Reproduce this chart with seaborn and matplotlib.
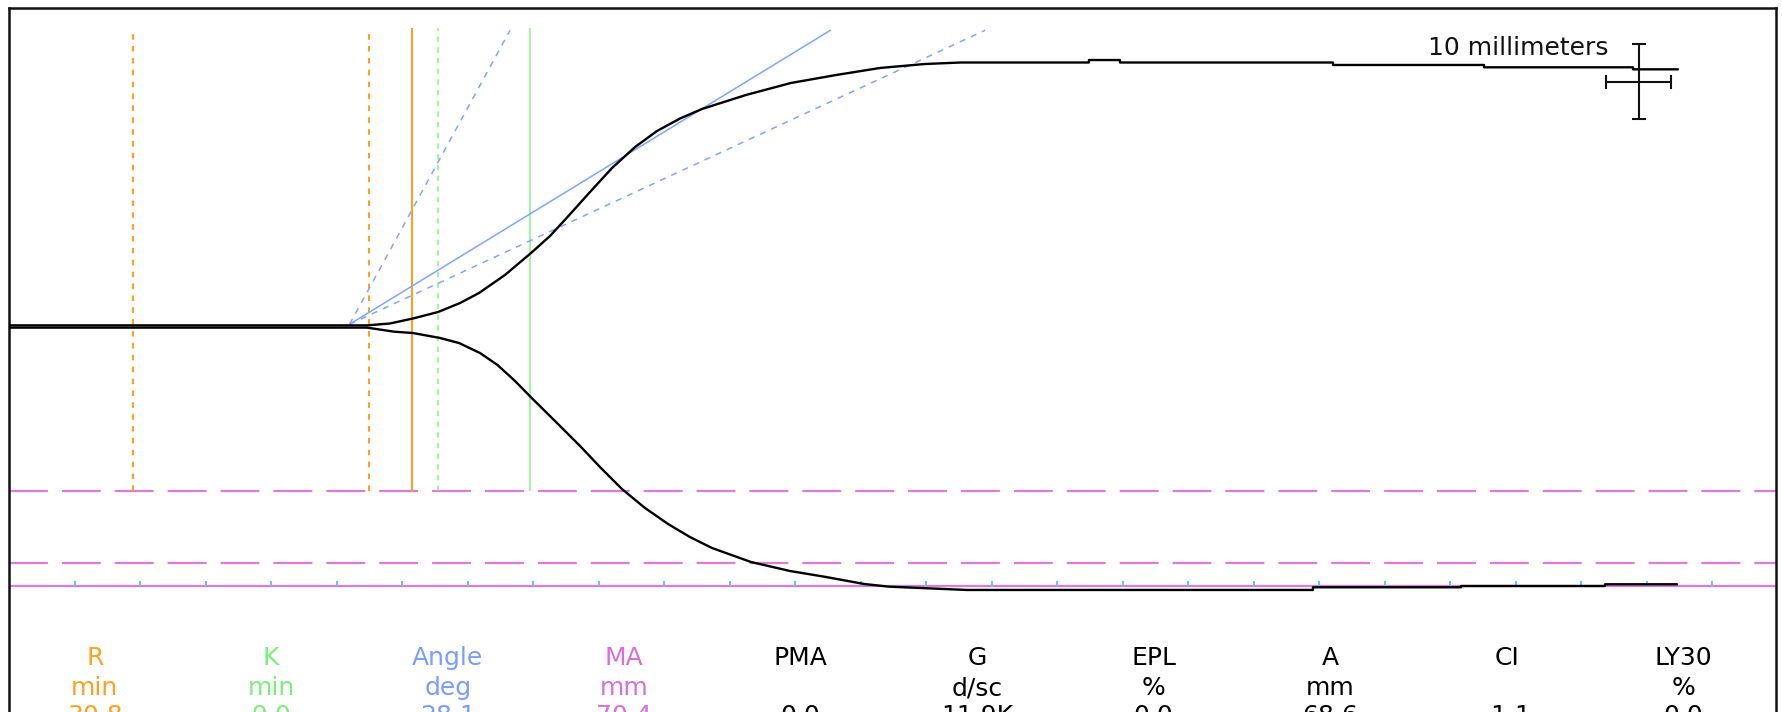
import matplotlib
matplotlib.use("Agg")
import numpy as np
import pandas as pd
import matplotlib.pyplot as plt
import seaborn as sns

sns.set_style("white")
plt.rcParams['font.family'] = ['DejaVu Sans']

# ---- tracing (time in minutes, amplitude in mm from baseline) ----
time_upper = [0, 27.33, 29.08, 30.84, 32.75, 34.43, 35.88, 37.86, 39.85, 41.30,
              42.67, 44.35, 46.03, 47.79, 49.47, 51.22, 52.90, 56.26, 59.69, 63.13,
              66.49, 69.92, 72.67, 82.44, 82.44, 84.81, 84.81, 101.07, 101.07, 112.60,
              112.60, 123.97, 123.97, 127.40]
amp_upper = [0.15, 0.15, 0.4, 1.07, 1.93, 3.13, 4.47, 6.87, 9.8, 12.07,
             14.67, 17.93, 21.13, 23.93, 26.07, 27.73, 29.0, 30.87, 32.47, 33.53,
             34.47, 35.0, 35.2, 35.2, 35.53, 35.53, 35.2, 35.2, 34.87, 34.87,
             34.56, 34.56, 34.29, 34.29]

time_lower = [0, 27.33, 29.39, 30.84, 32.90, 34.35, 35.95, 37.29, 38.63, 39.92,
              41.68, 43.59, 45.11, 46.79, 48.55, 50.31, 51.98, 53.66, 56.64,
              59.62, 62.37, 65.27, 67.18, 69.62, 73.13, 99.54, 99.54, 110.84, 110.84,
              121.83, 121.83, 127.33]
amp_lower = [-0.15, -0.15, -0.69, -0.87, -1.53, -2.2, -3.53, -5.13, -7.27, -9.57,
             -12.6, -15.93, -18.73, -21.67, -24.2, -26.33, -28.07, -29.53, -31.4,
             -32.6, -33.4, -34.33, -34.69, -34.87, -35.13, -35.13, -34.77, -34.77, -34.6,
             -34.6, -34.37, -34.37]

# ---- results ----
r_time = 30.8          # min
k_time = 9.0           # min
angle_deg = 28.1       # deg
r_normal = [9.5, 27.5]          # min
k_normal_marker = 32.75         # min
angle_normal = [22.0, 58.0]     # deg
ma_normal = [44.0, 63.0]        # mm
ma_axis_level = -34.6           # mm
tangent_origin = (26.0, 0.3)    # (min, mm)
tick_minutes = list(range(5, 131, 5))

param_names = ["R", "K", "Angle", "MA", "PMA", "G", "EPL", "A", "CI", "LY30"]
param_units = ["min", "min", "deg", "mm", "", "d/sc", "%", "mm", "", "%"]
param_values = ["30.8", "9.0", "28.1", "70.4", "0.0", "11.9K", "0.0", "68.6", "-1.1", "0.0"]

# ---- colours ----
c_orange = "#FFA020"
c_green = "#86F086"
c_blue = "#7FA6FF"
c_magenta = "#DD7ADD"
c_tick = "#66C0FF"
param_colors = [c_orange, "#7DEE7D", "#7A9CFF", "#DA6EDA",
                "black", "black", "black", "black", "black", "black"]

W, H, DPI = 1783, 712, 100
fig = plt.figure(figsize=(W / DPI, H / DPI), dpi=DPI)
fig.patch.set_facecolor("white")

# frame: left 9 px, right 1776 px, top 8 px, extends below the canvas
px_per_min, px_per_mm = 13.1, 7.5
base_px = 326.5
left_px, right_px, top_px, bottom_px = 9, 1776, 8, 760
ax = fig.add_axes([left_px / W, 1 - bottom_px / H,
                   (right_px - left_px) / W, (bottom_px - top_px) / H])
ax.set_xlim(0, (right_px - left_px) / px_per_min)
ax.set_ylim((base_px - bottom_px) / px_per_mm, (base_px - top_px) / px_per_mm)
ax.set_xticks([])
ax.set_yticks([])
for s in ax.spines.values():
    s.set_color("#111111")
    s.set_linewidth(1.8)

# MA reference lines and time axis
for ma in ma_normal:
    ax.axhline(-ma / 2, color=c_magenta, lw=1.6, ls=(0, (17.5, 6.3)), zorder=1)
ax.axhline(ma_axis_level, color=c_magenta, lw=1.6, zorder=1)
ax.vlines(tick_minutes, ma_axis_level, ma_axis_level + 0.65, color=c_tick, lw=1.4, zorder=1)

# R / K markers
v_top, v_bot = 39.8, -21.93
ax.vlines(r_normal, v_bot, v_top, color=c_orange, lw=1.5, ls=(0, (2.7, 3.0)), zorder=2)
ax.vlines(r_time, v_bot, v_top, color=c_orange, lw=1.5, zorder=2)
ax.vlines(k_normal_marker, v_bot, v_top, color=c_green, lw=1.1, ls=(0, (3.5, 3.5)), zorder=2)
ax.vlines(r_time + k_time, v_bot, v_top, color=c_green, lw=1.1, zorder=2)

# angle lines (paper speed 2 mm/min)
t0, a0 = tangent_origin
a_end = 39.5
def angle_end(deg):
    return t0 + (a_end - a0) / np.tan(np.radians(deg)) / 2.0
ax.plot([t0, angle_end(angle_deg)], [a0, a_end], color=c_blue, lw=1.1, zorder=2)
for deg in angle_normal:
    ax.plot([t0, angle_end(deg)], [a0, a_end], color=c_blue, lw=1.1,
            ls=(0, (4, 4)), zorder=2)

# tracing
df_u = pd.DataFrame({"time": time_upper, "amp": amp_upper})
df_l = pd.DataFrame({"time": time_lower, "amp": amp_lower})
sns.lineplot(data=df_u, x="time", y="amp", ax=ax, color="black", lw=1.7,
             sort=False, estimator=None, zorder=4)
sns.lineplot(data=df_l, x="time", y="amp", ax=ax, color="black", lw=1.7,
             sort=False, estimator=None, zorder=4)
ax.set_xlabel("")
ax.set_ylabel("")

# scale cross: 10 mm vertical, 10 mm (5 min) horizontal
ax.errorbar(124.4, 32.6, xerr=2.5, yerr=5.0, color="#111111", lw=1.5,
            capsize=5, capthick=1.5, zorder=5)
ax.text(122.1, 36.2, "10 millimeters", ha="right", va="baseline",
        fontsize=18, color="#111111")

# parameter table
col0, col_step = 94.7, 176.5
row_y = [658, 688, 716]
for i, (n, u, v, c) in enumerate(zip(param_names, param_units, param_values, param_colors)):
    x = (col0 + col_step * i) / W
    for txt, ry in zip((n, u, v), row_y):
        if txt:
            fig.text(x, 1 - ry / H, txt, ha="center", va="center",
                     fontsize=18, color=c)

fig.savefig("out.png", dpi=DPI, facecolor="white")
